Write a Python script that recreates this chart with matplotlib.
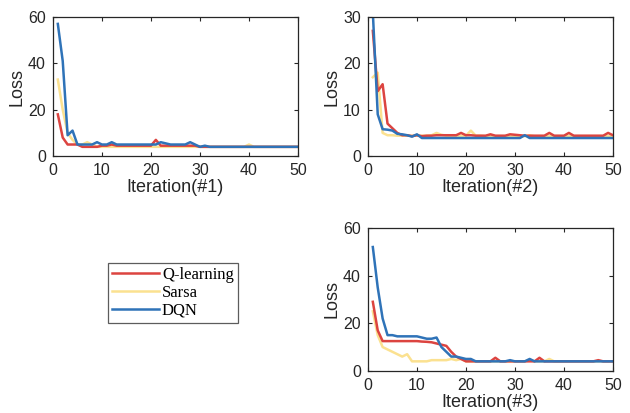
import matplotlib.pyplot as plt
import numpy as np

# iterations 1..50
iters = np.arange(1, 51)

# run #1
q1 = [18, 8, 5, 5, 5, 4, 4, 4, 4, 4.5, 4.5, 5, 4.5, 4.5, 4.5, 4.5, 4.5, 4.5, 4.5, 4.5,
      7, 4.5, 4.5, 4.5, 4.5, 4.5, 4.5, 4.5, 4.5, 4, 4, 4, 4, 4, 4, 4, 4, 4, 4, 4,
      4, 4, 4, 4, 4, 4, 4, 4, 4, 4]
s1 = [33, 20, 10, 7, 5, 5, 6, 5, 4, 4, 4, 4, 4, 4, 4, 4, 4, 4, 4, 4,
      4, 4, 4, 4, 4, 4, 4, 4, 4, 4, 4, 4, 4, 4, 4, 4, 4, 4, 4, 5,
      4, 4, 4, 4, 4, 4, 4, 4, 4, 4]
d1 = [57, 41, 9, 11, 5, 5, 5, 5, 6, 5, 5, 6, 5, 5, 5, 5, 5, 5, 5, 5,
      5, 6, 5.5, 5, 5, 5, 5, 6, 5, 4, 4.5, 4, 4, 4, 4, 4, 4, 4, 4, 4,
      4, 4, 4, 4, 4, 4, 4, 4, 4, 4]

# run #2
q2 = [27, 14, 15.5, 7, 6, 5, 4.5, 4.5, 4.3, 4.5, 4.3, 4.4, 4.4, 4.5, 4.5, 4.5, 4.5, 4.5, 5, 4.5,
      4.5, 4.4, 4.4, 4.4, 4.7, 4.4, 4.4, 4.4, 4.7, 4.6, 4.5, 4.4, 4.4, 4.4, 4.4, 4.4, 5, 4.4, 4.4, 4.4,
      5, 4.4, 4.4, 4.4, 4.4, 4.4, 4.4, 4.4, 5, 4.5]
s2 = [17, 18, 5, 4.5, 4.5, 4.4, 4.4, 4.4, 4.4, 4.4, 4.4, 4.4, 4.5, 5, 4.6, 4.4, 4.4, 4.4, 4.4, 4.4,
      5.5, 4.4, 4.4, 4.3, 4.3, 4.3, 4.3, 4.3, 4.3, 4.3, 4.3, 4.3, 4.5, 4.3, 4.3, 4.3, 4.3, 4.3, 4.3, 4.3,
      4.3, 4.3, 4.3, 4.3, 4.3, 4.3, 4.3, 4.3, 4.3, 4.3]
d2 = [31, 9, 5.8, 5.7, 5.5, 4.8, 4.7, 4.5, 4.2, 4.7, 3.9, 3.9, 3.9, 3.9, 3.9, 3.9, 3.9, 3.9, 3.9, 3.9,
      3.9, 3.9, 3.9, 3.9, 3.9, 3.9, 3.9, 3.9, 3.9, 3.9, 3.9, 4.5, 3.9, 3.9, 3.9, 3.9, 3.9, 3.9, 3.9, 3.9,
      3.9, 3.9, 3.9, 3.9, 3.9, 3.9, 3.9, 3.9, 3.9, 3.9]

# run #3
q3 = [29, 17, 12.5, 12.5, 12.5, 12.5, 12.5, 12.5, 12.5, 12.5, 12.3, 12.2, 12, 11.5, 11, 10.5, 8, 6, 5, 4,
      4, 4, 4, 4, 4, 5.5, 4, 4, 4, 4, 4, 4, 4, 4, 5.5, 4, 4, 4, 4, 4,
      4, 4, 4, 4, 4, 4, 4.5, 4, 4, 4]
s3 = [25, 15, 10, 9, 8, 7, 6, 7, 4, 4, 4, 4, 4.5, 4.5, 4.5, 4.5, 5, 4.5, 5, 4,
      4, 4, 4, 4, 4, 4, 4, 4, 4, 4, 4, 4, 4.5, 4, 4, 4, 5, 4, 4, 4,
      4, 4, 4, 4, 4, 4, 4, 4, 4, 4]
d3 = [52, 35, 22, 15, 15, 14.5, 14.5, 14.5, 14.5, 14.5, 14, 13.5, 13.5, 14, 10, 8, 6, 6, 5.5, 5,
      5, 4, 4, 4, 4, 4, 4, 4, 4.5, 4, 4, 4, 5, 4, 4, 4, 4, 4, 4, 4,
      4, 4, 4, 4, 4, 4, 4, 4, 4, 4]

names = ['Q-learning', 'Sarsa', 'DQN']
colors = ['#dc4440', '#fbe190', '#2f73b8']

plt.rcParams['font.family'] = 'Liberation Sans'

fig = plt.figure(figsize=(6.3, 4.13), dpi=100)
ax1 = fig.add_axes([0.084, 0.622, 0.389, 0.337])
ax2 = fig.add_axes([0.584, 0.622, 0.389, 0.337])
ax3 = fig.add_axes([0.584, 0.102, 0.389, 0.346])

runs = [(ax1, [q1, s1, d1], 60, '#1'),
        (ax2, [q2, s2, d2], 30, '#2'),
        (ax3, [q3, s3, d3], 60, '#3')]

lines = []
for ax, data, ymax, tag in runs:
    for k in [1, 0, 2]:
        ln, = ax.plot(iters, data[k], color=colors[k], lw=1.8)
        if ax is ax1:
            lines.append((k, ln))
    ax.set_xlim(0, 50)
    ax.set_ylim(0, ymax)
    ax.set_xticks([0, 10, 20, 30, 40, 50])
    ax.set_yticks(np.arange(0, ymax + 1, 10 if ymax == 30 else 20))
    ax.tick_params(direction='in', top=True, right=True, labelsize=11.5,
                   colors='#262626', length=3, width=0.8, pad=5)
    for sp in ax.spines.values():
        sp.set_color('#262626')
        sp.set_linewidth(0.9)
    ax.set_xlabel('Iteration(' + tag + ')', fontsize=13, color='#262626', labelpad=1)
    ax.set_ylabel('Loss', fontsize=13, color='#262626', labelpad=2)

lines.sort(key=lambda t: t[0])
handles = [ln for _, ln in lines]
leg = fig.legend(handles, names, loc='upper left', bbox_to_anchor=(0.171, 0.363),
                 frameon=True, fancybox=False, edgecolor='#333333',
                 prop={'family': 'Liberation Serif', 'size': 12},
                 handlelength=2.8, handletextpad=0.2, labelspacing=0.1,
                 borderpad=0.25, borderaxespad=0)
leg.get_frame().set_linewidth(0.9)

fig.savefig('out.png', dpi=100)
